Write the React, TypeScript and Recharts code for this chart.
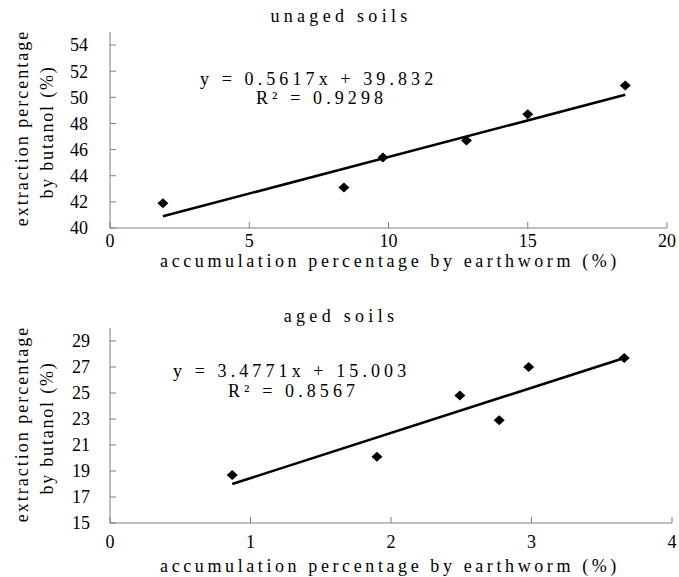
import React from "react";
import { ScatterChart, Scatter, XAxis, YAxis, Customized } from "recharts";

// unaged soils
const unagedX = [1.9, 8.4, 9.8, 12.8, 15.0, 18.5];
const unagedY = [41.9, 43.1, 45.4, 46.7, 48.7, 50.9];
const unagedFitX = [1.9, 18.5];
const unagedFitY = [40.9, 50.2];
const unagedXTicks = [0, 5, 10, 15, 20];
const unagedYTicks = [40, 42, 44, 46, 48, 50, 52, 54];

// aged soils
const agedX = [0.87, 1.9, 2.49, 2.77, 2.98, 3.66];
const agedY = [18.7, 20.1, 24.8, 22.9, 27.0, 27.7];
const agedFitX = [0.87, 3.66];
const agedFitY = [18.0, 27.7];
const agedXTicks = [0, 1, 2, 3, 4];
const agedYTicks = [15, 17, 19, 21, 23, 25, 27, 29];

const FONT = "Liberation Serif";
const AXIS = "#7f7f7f";

const toPoints = (xs: number[], ys: number[]) =>
  xs.map((x, i) => ({ x, y: ys[i] }));

const Diamond = (props: any) => {
  const { cx, cy } = props;
  if (cx == null || cy == null) return <g />;
  return (
    <path
      d={`M${cx},${cy - 5}L${cx + 5.5},${cy}L${cx},${cy + 5}L${cx - 5.5},${cy}Z`}
      fill="#000"
    />
  );
};

const NoDot = () => <g />;

type PanelProps = {
  height: number;
  margin: { top: number; right: number; bottom: number; left: number };
  xs: number[];
  ys: number[];
  fitX: number[];
  fitY: number[];
  xTicks: number[];
  yTicks: number[];
  xDomain: [number, number];
  yDomain: [number, number];
  title: string;
  titleY: number;
  eq: string;
  eqX: number;
  eqY: number;
  r2: string;
  r2X: number;
  r2Y: number;
  xLabelY: number;
  yLabelCenter: number;
  xTickMargin: number;
  yTickMargin: number;
};

const txt = { fontFamily: FONT, fontSize: 18 };

function Panel(p: PanelProps) {
  const Labels = () => (
    <g fill="#000">
      <text x={341} y={p.titleY} textAnchor="middle" letterSpacing={4.3} style={txt}>
        {p.title}
      </text>
      <text x={p.eqX} y={p.eqY} letterSpacing={4.1} style={txt}>
        {p.eq}
      </text>
      <text x={p.r2X} y={p.r2Y} letterSpacing={4.1} style={txt}>
        {p.r2}
      </text>
      <text x={390} y={p.xLabelY} textAnchor="middle" letterSpacing={3.6} style={txt}>
        accumulation percentage by earthworm (%)
      </text>
      <text
        transform={`translate(28, ${p.yLabelCenter}) rotate(-90)`}
        textAnchor="middle"
        letterSpacing={2}
        style={txt}
      >
        extraction percentage
      </text>
      <text
        transform={`translate(53, ${p.yLabelCenter + 4}) rotate(-90)`}
        textAnchor="middle"
        letterSpacing={1.8}
        style={txt}
      >
        by butanol (%)
      </text>
    </g>
  );

  return (
    <ScatterChart width={679} height={p.height} margin={p.margin}>
      <XAxis
        type="number"
        dataKey="x"
        domain={p.xDomain}
        ticks={p.xTicks}
        interval={0}
        allowDataOverflow
        height={30}
        tickSize={-6}
        tickMargin={p.xTickMargin}
        stroke={AXIS}
        tick={{ fill: "#000", fontFamily: FONT, fontSize: 18 }}
      />
      <YAxis
        type="number"
        dataKey="y"
        domain={p.yDomain}
        ticks={p.yTicks}
        interval={0}
        allowDataOverflow
        width={60}
        tickSize={-6}
        tickMargin={p.yTickMargin}
        stroke={AXIS}
        tick={{ fill: "#000", fontFamily: FONT, fontSize: 18 }}
      />
      <Scatter
        data={toPoints(p.fitX, p.fitY)}
        line={{ stroke: "#000", strokeWidth: 2.6 }}
        shape={NoDot}
        isAnimationActive={false}
      />
      <Scatter
        data={toPoints(p.xs, p.ys)}
        shape={Diamond}
        isAnimationActive={false}
      />
      <Customized component={Labels} />
    </ScatterChart>
  );
}

export default function App() {
  return (
    <div style={{ position: "absolute", left: 0, top: 0, width: 679, height: 577, background: "#fff" }}>
      <Panel
        height={290}
        margin={{ top: 32, right: 12, bottom: 32, left: 50 }}
        xs={unagedX}
        ys={unagedY}
        fitX={unagedFitX}
        fitY={unagedFitY}
        xTicks={unagedXTicks}
        yTicks={unagedYTicks}
        xDomain={[0, 20]}
        yDomain={[40, 55]}
        title="unaged soils"
        titleY={22}
        eq="y = 0.5617x + 39.832"
        eqX={200}
        eqY={85}
        r2="R² = 0.9298"
        r2X={256}
        r2Y={104}
        xLabelY={267}
        yLabelCenter={128}
        xTickMargin={12}
        yTickMargin={28}
      />
      <Panel
        height={287}
        margin={{ top: 38, right: 7, bottom: 24, left: 50 }}
        xs={agedX}
        ys={agedY}
        fitX={agedFitX}
        fitY={agedFitY}
        xTicks={agedXTicks}
        yTicks={agedYTicks}
        xDomain={[0, 4]}
        yDomain={[15, 30]}
        title="aged soils"
        titleY={32}
        eq="y = 3.4771x + 15.003"
        eqX={173}
        eqY={87}
        r2="R² = 0.8567"
        r2X={228}
        r2Y={107}
        xLabelY={282}
        yLabelCenter={134}
        xTickMargin={18}
        yTickMargin={26}
      />
    </div>
  );
}
